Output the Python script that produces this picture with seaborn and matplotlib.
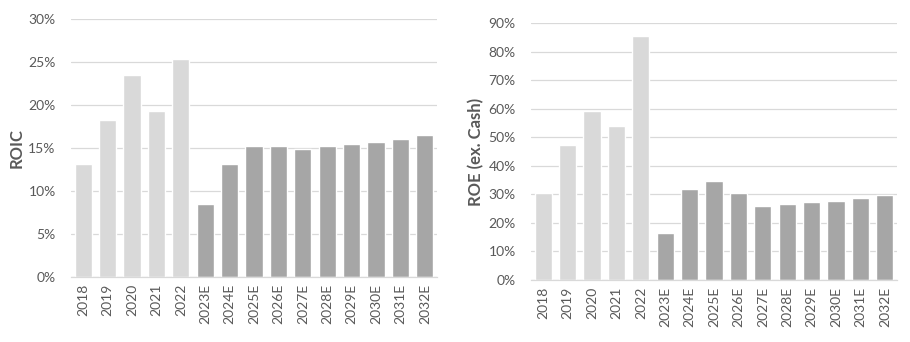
import matplotlib
matplotlib.use("Agg")
import matplotlib.pyplot as plt
import seaborn as sns
import pandas as pd
from matplotlib.ticker import MultipleLocator, FuncFormatter

years = ["2018", "2019", "2020", "2021", "2022", "2023E", "2024E", "2025E",
         "2026E", "2027E", "2028E", "2029E", "2030E", "2031E", "2032E"]
roic = [13.1, 18.3, 23.5, 19.3, 25.4, 8.5, 13.1, 15.2, 15.2, 14.9, 15.2, 15.5, 15.7, 16.1, 16.5]
roe = [30.4, 47.2, 59.1, 53.8, 85.3, 16.3, 31.7, 34.8, 30.4, 25.8, 26.5, 27.2, 27.5, 28.6, 29.7]
kind = ["Actual"] * 5 + ["Estimate"] * 10

LIGHT = "#D9D9D9"
DARK = "#A6A6A6"
TXT = "#595959"

sns.set_theme(style="white")
plt.rcParams['font.family'] = ['Lato', 'DejaVu Sans']

df = pd.DataFrame({"year": years, "roic": roic, "roe": roe, "kind": kind})

fig = plt.figure(figsize=(9.1, 3.42), dpi=100)
W, H = 910, 342
ax1 = fig.add_axes([71 / W, 1 - 277 / H, (437 - 71) / W, (277 - 19) / H])
ax2 = fig.add_axes([531 / W, 1 - 280 / H, (897 - 531) / W, (280 - 23) / H])

for ax, col, ymax, step, label in [(ax1, "roic", 30, 5, "ROIC"),
                                    (ax2, "roe", 90, 10, "ROE (ex. Cash)")]:
    sns.barplot(data=df, x="year", y=col, hue="kind",
                palette={"Actual": LIGHT, "Estimate": DARK},
                dodge=False, width=0.7, legend=False, ax=ax, saturation=1)
    ax.set_ylim(0, ymax)
    ax.set_xlim(-0.5, len(years) - 0.5)
    ax.yaxis.set_major_locator(MultipleLocator(step))
    ax.yaxis.set_major_formatter(FuncFormatter(lambda v, p: f"{v:.0f}%"))
    ax.grid(axis="y", color=LIGHT, linewidth=0.9)
    ax.set_axisbelow(True)
    for s in ["top", "right", "left"]:
        ax.spines[s].set_visible(False)
    ax.spines["bottom"].set_color(LIGHT)
    ax.spines["bottom"].set_linewidth(0.9)
    ax.tick_params(axis="x", labelrotation=90, labelsize=10, colors=TXT, length=0, pad=5)
    ax.tick_params(axis="y", labelsize=10, colors=TXT, length=0, pad=11)
    ax.set_xlabel("")
    ax.set_ylabel(label, fontsize=12, fontweight="bold", color=TXT, labelpad=3)

fig.savefig("out.png", dpi=100)
